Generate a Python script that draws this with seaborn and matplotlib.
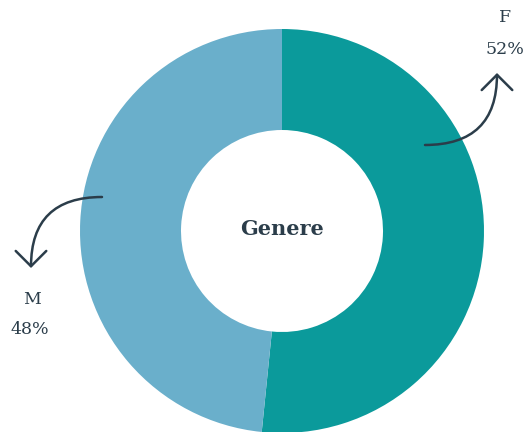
import matplotlib
matplotlib.use("Agg")
import matplotlib.pyplot as plt
from matplotlib.patches import FancyArrowPatch
import seaborn as sns

labels = ["F", "M"]
shares = [51.6, 48.4]
colors = ["#0b9a9b", "#6aafcb"]
center_label = "Genere"

sns.set_theme(style="white")
plt.rcParams["font.family"] = ["DejaVu Serif"]

ink = "#2b3d4a"

fig = plt.figure(figsize=(5.32, 4.32), dpi=100)
ax = fig.add_axes([0, 0, 1, 1])

cx, cy, r = 282, 201, 202
ax.pie(
    shares,
    colors=colors,
    startangle=90,
    counterclock=False,
    center=(cx, cy),
    radius=r,
    wedgeprops=dict(width=r - 101, linewidth=0),
    frame=True,
)
ax.set_xlim(0, 532)
ax.set_ylim(0, 432)
ax.set_aspect("equal")
ax.axis("off")

ax.text(cx, cy + 2, center_label, ha="center", va="center", fontsize=15,
        fontweight="bold", color=ink)

# labels with curved arrows
ax.text(505, 414, labels[0], ha="center", va="center", fontsize=12.5, color=ink)
ax.text(505, 382, f"{shares[0]:.0f}%", ha="center", va="center", fontsize=12.5, color=ink)
ax.text(32, 132, labels[1], ha="center", va="center", fontsize=12.5, color=ink)
ax.text(30, 102, f"{shares[1]:.0f}%", ha="center", va="center", fontsize=12.5, color=ink)

arrow_kw = dict(arrowstyle="->,head_length=11,head_width=11", color=ink, lw=1.8,
                connectionstyle="arc3,rad=0.5", shrinkA=0, shrinkB=0)
ax.add_patch(FancyArrowPatch((425, 287), (497, 359), **arrow_kw))
ax.add_patch(FancyArrowPatch((102, 235), (31, 164), **arrow_kw))

fig.savefig("out.png", dpi=100)
